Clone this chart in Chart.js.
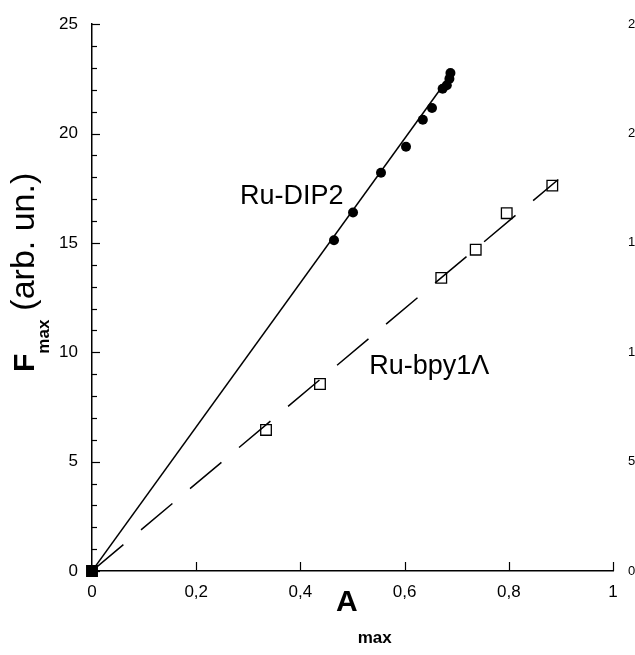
<!DOCTYPE html>
<html lang="en">
<head>
<meta charset="UTF-8">
<title>Fmax vs Amax</title>
<script src="https://cdn.jsdelivr.net/npm/chart.js"></script>
<style>
    html, body {
        margin: 0;
        padding: 0;
        background: #fff;
    }
    canvas {
        display: block;
    }
</style>
</head>
<body>
<canvas id="chart" width="635" height="655"></canvas>
<script>
    // Ru-DIP2, filled circles
    const dipA = [0, 0.4645, 0.501, 0.5547, 0.6027, 0.635, 0.6526, 0.673, 0.681, 0.686, 0.688];
    const dipF = [0, 15.12, 16.39, 18.21, 19.40, 20.63, 21.17, 22.05, 22.21, 22.51, 22.77];
    // Ru-bpy1Λ, open squares (origin drawn filled)
    const bpyA = [0, 0.334, 0.4376, 0.6704, 0.7365, 0.796, 0.8835];
    const bpyF = [0, 6.45, 8.55, 13.40, 14.69, 16.36, 17.62];
    // fitted lines through the origin, end points
    const dipFitA = [0, 0.689];
    const dipFitF = [0, 22.7];
    const bpyFitA = [0, 0.895];
    const bpyFitF = [0, 17.9];

    const xTicks = [0, 0.2, 0.4, 0.6, 0.8, 1];
    const yTicks = [0, 5, 10, 15, 20, 25];

    const FONT = '"Liberation Sans", Arial, sans-serif';

    function toPoints(xs, ys) {
        return xs.map((v, i) => ({ x: v, y: ys[i] }));
    }

    // inward tick marks on both axes
    const axisTicks = {
        id: 'axisTicks',
        afterDraw(chart) {
            const { ctx, scales: { x, y } } = chart;
            ctx.save();
            ctx.strokeStyle = '#000';
            ctx.lineWidth = 1.2;
            for (let v = 0; v <= 25; v++) {
                const py = Math.round(y.getPixelForValue(v)) + 0.5;
                const len = v % 5 === 0 ? 8 : 5;
                ctx.beginPath();
                ctx.moveTo(x.left, py);
                ctx.lineTo(x.left + len, py);
                ctx.stroke();
            }
            xTicks.forEach(v => {
                if (v === 0) return;
                const px = Math.round(x.getPixelForValue(v)) + 0.5;
                ctx.beginPath();
                ctx.moveTo(px, y.bottom);
                ctx.lineTo(px, y.bottom - 9);
                ctx.stroke();
            });
            ctx.restore();
        }
    };

    // axis titles with subscripts and the two series labels
    const textLayer = {
        id: 'textLayer',
        afterDraw(chart) {
            const { ctx, scales: { x, y } } = chart;
            ctx.save();
            ctx.fillStyle = '#000';
            ctx.textAlign = 'left';
            ctx.textBaseline = 'alphabetic';

            // x title
            ctx.font = 'bold 30px ' + FONT;
            ctx.fillText('A', 336, 611);
            const aw = ctx.measureText('A').width;
            ctx.font = 'bold 17px ' + FONT;
            ctx.fillText('max', 336 + aw, 643);

            // y title, rotated
            ctx.save();
            ctx.translate(34, 372);
            ctx.rotate(-Math.PI / 2);
            ctx.font = 'bold 30px ' + FONT;
            ctx.fillText('F', 0, 0);
            let off = ctx.measureText('F').width;
            ctx.font = 'bold 17px ' + FONT;
            ctx.fillText('max', off, 15);
            off += ctx.measureText('max').width + 9;
            ctx.font = '34px ' + FONT;
            ctx.fillText('(arb. un.)', off, 0);
            ctx.restore();

            // series labels
            ctx.font = '27px ' + FONT;
            ctx.fillText('Ru-DIP2', x.getPixelForValue(0.284), y.getPixelForValue(16.77));
            ctx.fillText('Ru-bpy1\u039B', x.getPixelForValue(0.532), y.getPixelForValue(9.02));
            ctx.restore();
        }
    };

    const bpyFill = bpyA.map((v, i) => i === 0 ? '#000' : 'rgba(0,0,0,0)');

    new Chart(document.getElementById('chart'), {
        type: 'scatter',
        data: {
            datasets: [
                {
                    label: 'Ru-DIP2 fit',
                    data: toPoints(dipFitA, dipFitF),
                    showLine: true,
                    borderColor: '#000',
                    borderWidth: 1.5,
                    pointRadius: 0
                },
                {
                    label: 'Ru-bpy1\u039B fit',
                    data: toPoints(bpyFitA, bpyFitF),
                    showLine: true,
                    borderColor: '#000',
                    borderWidth: 1.5,
                    borderDash: [41, 23],
                    pointRadius: 0
                },
                {
                    label: 'Ru-DIP2',
                    data: toPoints(dipA, dipF),
                    pointStyle: 'circle',
                    pointRadius: 5,
                    backgroundColor: '#000',
                    borderColor: '#000',
                    borderWidth: 0,
                    clip: false
                },
                {
                    label: 'Ru-bpy1\u039B',
                    data: toPoints(bpyA, bpyF),
                    pointStyle: 'rect',
                    pointRadius: 7.5,
                    backgroundColor: bpyFill,
                    borderColor: '#000',
                    borderWidth: 1.3,
                    clip: false
                }
            ]
        },
        options: {
            responsive: false,
            animation: false,
            devicePixelRatio: 1,
            layout: { padding: { top: 22, left: 0, right: 0, bottom: 0 } },
            plugins: {
                legend: { display: false },
                tooltip: { enabled: false }
            },
            scales: {
                x: {
                    type: 'linear',
                    min: 0,
                    max: 1,
                    afterFit(scale) { scale.height = 84; },
                    afterBuildTicks(scale) { scale.ticks = xTicks.map(v => ({ value: v })); },
                    grid: { display: false, drawTicks: false },
                    border: { display: true, color: '#000', width: 1.5 },
                    ticks: {
                        padding: 11,
                        maxRotation: 0,
                        autoSkip: false,
                        color: '#000',
                        font: { family: FONT, size: 17 },
                        callback: v => String(Math.round(v * 10) / 10).replace('.', ',')
                    }
                },
                y: {
                    type: 'linear',
                    position: 'left',
                    min: 0,
                    max: 25,
                    afterFit(scale) { scale.width = 92; },
                    afterBuildTicks(scale) { scale.ticks = yTicks.map(v => ({ value: v })); },
                    grid: { display: false, drawTicks: false },
                    border: { display: true, color: '#000', width: 1.5 },
                    ticks: {
                        padding: 14,
                        color: '#000',
                        font: { family: FONT, size: 17 }
                    }
                },
                y2: {
                    type: 'linear',
                    position: 'right',
                    min: 0,
                    max: 25,
                    afterFit(scale) { scale.width = 22; },
                    afterBuildTicks(scale) { scale.ticks = yTicks.map(v => ({ value: v })); },
                    grid: { display: false, drawTicks: false },
                    border: { display: false },
                    ticks: {
                        padding: 15,
                        color: '#000',
                        font: { family: FONT, size: 13 }
                    }
                }
            }
        },
        plugins: [axisTicks, textLayer]
    });
</script>
</body>
</html>
